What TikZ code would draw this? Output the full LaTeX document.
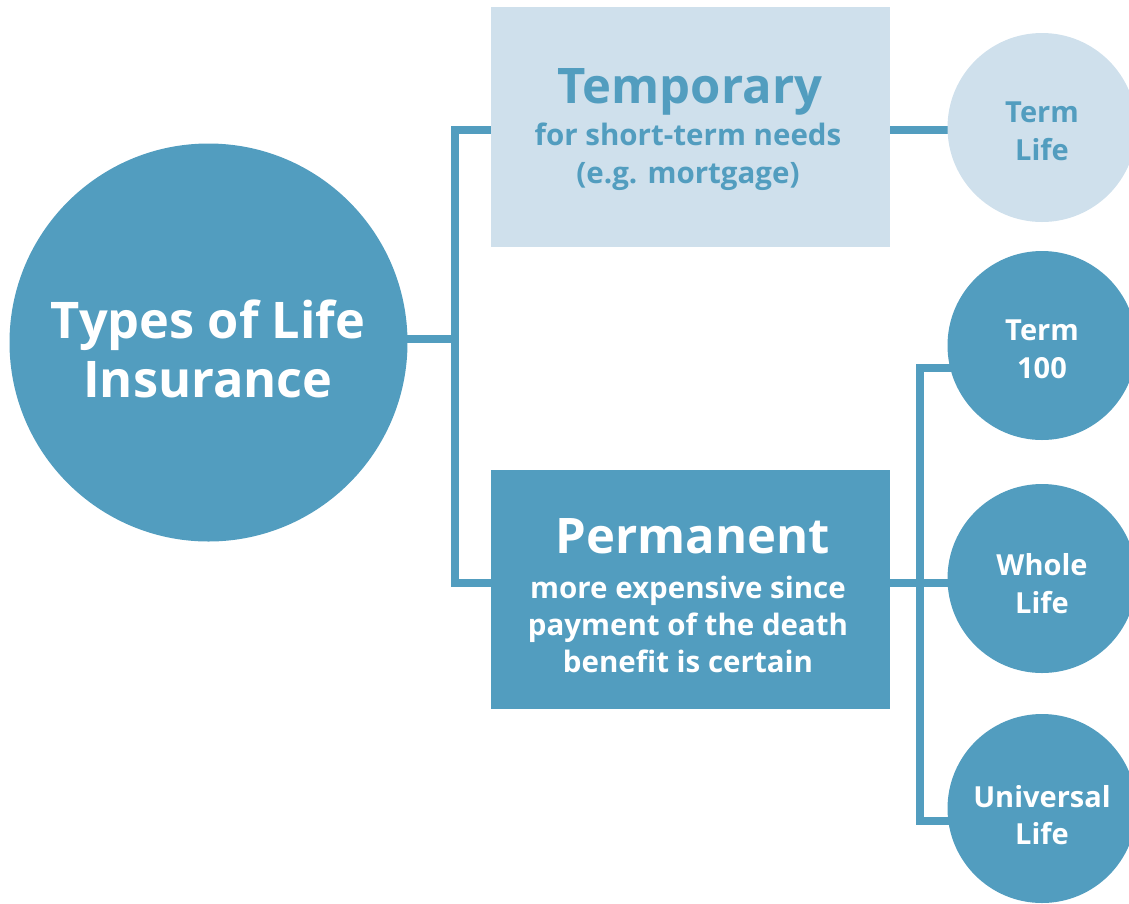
\documentclass[tikz,border=0pt]{standalone}
\usepackage{fontspec}
\setmainfont{Open Sans}
\usetikzlibrary{backgrounds}
\definecolor{insblue}{RGB}{82,157,191}
\definecolor{inslight}{RGB}{207,224,236}
\begin{document}
\begin{tikzpicture}[x=1pt,y=-1pt,
  conn/.style={draw=insblue,line width=8pt},
  bigdisc/.style={circle,fill=insblue,minimum size=398pt,inner sep=0pt},
  smalldisc/.style={circle,fill=insblue,minimum size=189pt,inner sep=0pt},
  lightdisc/.style={circle,fill=inslight,minimum size=189pt,inner sep=0pt},
  lightbox/.style={rectangle,fill=inslight,minimum width=399pt,minimum height=240pt,inner sep=0pt},
  darkbox/.style={rectangle,fill=insblue,minimum width=399pt,minimum height=239pt,inner sep=0pt},
  txt/.style={anchor=base,inner sep=0pt,font=\bfseries},
  titletxt/.style={txt,font=\fontsize{50.5}{50.5}\selectfont\bfseries},
  headtxt/.style={txt,font=\fontsize{49}{49}\selectfont\bfseries},
  subtxt/.style={txt,font=\fontsize{29.5}{29.5}\selectfont\bfseries},
  disctxt/.style={txt,font=\fontsize{29}{29}\selectfont\bfseries},
]
\useasboundingbox (0,0) rectangle (1129,903);

% main topic
\node[bigdisc] (root) at (208.5,342.5) {};
\node[titletxt,white] (rootA) at (208,338) {Types of Life};
\node[titletxt,white] (rootB) at (208,397) {Insurance};

% the two categories
\node[lightbox] (temp) at (690.5,127) {};
\node[headtxt,insblue] (tempA) at (690,103) {Temporary};
\node[subtxt,insblue] (tempB) at (688,145) {for short-term needs};
\node[subtxt,insblue] (tempC) at (688,183) {(e.g. mortgage)};

\node[darkbox] (perm) at (690.5,589.5) {};
\node[headtxt,white] (permA) at (693,553) {Permanent};
\node[subtxt,white] (permB) at (688,598) {more expensive since};
\node[subtxt,white] (permC) at (688,635) {payment of the death};
\node[subtxt,white] (permD) at (688,672) {benefit is certain};

% policy types
\node[lightdisc] (tl) at (1042,127.5) {};
\node[disctxt,insblue] (tlA) at (1042,122) {Term};
\node[disctxt,insblue] (tlB) at (1042,160) {Life};

\node[smalldisc] (t100) at (1042,345.5) {};
\node[disctxt,white] (t100A) at (1042,340) {Term};
\node[disctxt,white] (t100B) at (1042,378) {100};

\node[smalldisc] (wl) at (1042,578.5) {};
\node[disctxt,white] (wlA) at (1042,575) {Whole};
\node[disctxt,white] (wlB) at (1042,613) {Life};

\node[smalldisc] (ul) at (1042,808.5) {};
\node[disctxt,white] (ulA) at (1042,807) {Universal};
\node[disctxt,white] (ulB) at (1042,844) {Life};

% bus junctions
\coordinate (jroot) at (455,339);
\coordinate (jtemp) at (455,130);
\coordinate (jperm) at (455,583);
\coordinate (kperm) at (920,583);
\coordinate (k100) at (920,368);
\coordinate (kul) at (920,821);

\begin{pgfonlayer}{background}
  \draw[conn] (root.center |- jroot) -- (jroot);
  \draw[conn] (temp.west |- jtemp) -- (jtemp) -- (jperm) -- (perm.west |- jperm);
  \draw[conn] (temp.east |- jtemp) -- (tl.center |- jtemp);
  \draw[conn] (t100.center |- k100) -- (k100) -- (kul) -- (ul.center |- kul);
  \draw[conn] (perm.east |- kperm) -- (wl.center |- kperm);
\end{pgfonlayer}
\end{tikzpicture}
\end{document}
